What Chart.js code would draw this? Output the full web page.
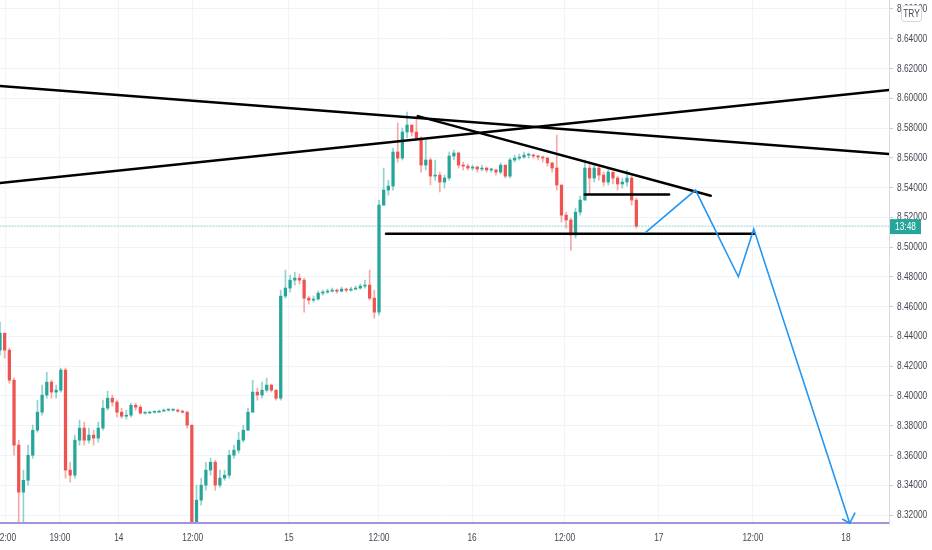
<!DOCTYPE html>
<html>
<head>
<meta charset="utf-8">
<script src="https://cdn.jsdelivr.net/npm/chart.js@4.4.1/dist/chart.umd.min.js"></script>
<style>
html, body { margin: 0; padding: 0; background: #fff; }
#wrap { width: 932px; height: 550px; }
</style>
</head>
<body>
<div id="wrap"><canvas id="chart" width="932" height="550"></canvas></div>
<script>
// one entry per candle, x = candle number
const firstOpen = 8.4308;
const closes = [
  8.4422, 8.4308, 8.4106, 8.3670, 8.3354, 8.3434, 8.3602, 8.3770, 8.3891, 8.4006,
  8.4093, 8.4026, 8.4039, 8.4174, 8.3502, 8.3468, 8.3703, 8.3784, 8.3703, 8.3737,
  8.3717, 8.3784, 8.3918, 8.3985, 8.3959, 8.3891, 8.3864, 8.3871, 8.3938, 8.3925,
  8.3885, 8.3885, 8.3891, 8.3891, 8.3898, 8.3905, 8.3905, 8.3905, 8.3898, 8.3891,
  8.3804, 8.3120, 8.3300, 8.3401, 8.3502, 8.3555, 8.3401, 8.3448, 8.3468, 8.3602,
  8.3636, 8.3703, 8.3770, 8.3891, 8.4026, 8.4006, 8.4039, 8.4073, 8.4039, 8.3985,
  8.4671, 8.4725, 8.4778, 8.4792, 8.4778, 8.4657, 8.4644, 8.4651, 8.4691, 8.4698,
  8.4704, 8.4711, 8.4704, 8.4718, 8.4711, 8.4718, 8.4725, 8.4738, 8.4745, 8.4657,
  8.4563, 8.5282, 8.5383, 8.5410, 8.5639, 8.5598, 8.5773, 8.5820, 8.5773, 8.5733,
  8.5551, 8.5585, 8.5477, 8.5484, 8.5437, 8.5464, 8.5612, 8.5632, 8.5551, 8.5544,
  8.5531, 8.5538, 8.5524, 8.5531, 8.5518, 8.5518, 8.5504, 8.5551, 8.5477, 8.5585,
  8.5598, 8.5605, 8.5618, 8.5618, 8.5612, 8.5605, 8.5598, 8.5565, 8.5531, 8.5417,
  8.5215, 8.5182, 8.5081, 8.5235, 8.5316, 8.5531, 8.5464, 8.5531, 8.5484, 8.5437,
  8.5504, 8.5464, 8.5424, 8.5437, 8.5464, 8.5316, 8.5141
];
const highs = [
  8.4496, 8.4375, 8.4321, 8.4120, 8.3703, 8.3502, 8.3670, 8.3804, 8.3972, 8.4073,
  8.4160, 8.4106, 8.4073, 8.4187, 8.4187, 8.3555, 8.3737, 8.3838, 8.3824, 8.3784,
  8.3770, 8.3824, 8.3972, 8.4032, 8.4006, 8.3972, 8.3918, 8.3905, 8.3952, 8.3952,
  8.3938, 8.3891, 8.3898, 8.3898, 8.3905, 8.3912, 8.3912, 8.3912, 8.3912, 8.3905,
  8.3898, 8.3804, 8.3401, 8.3448, 8.3555, 8.3582, 8.3568, 8.3502, 8.3502, 8.3636,
  8.3670, 8.3757, 8.3804, 8.3918, 8.4106, 8.4053, 8.4093, 8.4120, 8.4080, 8.4040,
  8.4711, 8.4846, 8.4812, 8.4832, 8.4819, 8.4792, 8.4671, 8.4671, 8.4704, 8.4711,
  8.4718, 8.4725, 8.4718, 8.4731, 8.4725, 8.4731, 8.4738, 8.4752, 8.4778, 8.4846,
  8.4711, 8.5316, 8.5531, 8.5450, 8.5665, 8.5834, 8.5800, 8.5907, 8.5820, 8.5880,
  8.5740, 8.5719, 8.5598, 8.5585, 8.5504, 8.5484, 8.5639, 8.5652, 8.5639, 8.5571,
  8.5558, 8.5551, 8.5544, 8.5551, 8.5538, 8.5531, 8.5524, 8.5565, 8.5551, 8.5598,
  8.5618, 8.5625, 8.5639, 8.5632, 8.5625, 8.5618, 8.5612, 8.5605, 8.5571, 8.5753,
  8.5417, 8.5235, 8.5195, 8.5262, 8.5343, 8.5585, 8.5571, 8.5558, 8.5551, 8.5504,
  8.5531, 8.5504, 8.5477, 8.5464, 8.5518, 8.5477, 8.5329
];
const lows = [
  8.4274, 8.4254, 8.4086, 8.3602, 8.3100, 8.3100, 8.3401, 8.3582, 8.3757, 8.3871,
  8.3985, 8.3985, 8.3985, 8.4026, 8.3448, 8.3421, 8.3448, 8.3670, 8.3670, 8.3683,
  8.3670, 8.3690, 8.3770, 8.3905, 8.3932, 8.3858, 8.3851, 8.3844, 8.3858, 8.3905,
  8.3878, 8.3878, 8.3885, 8.3885, 8.3891, 8.3898, 8.3898, 8.3898, 8.3891, 8.3885,
  8.3784, 8.3050, 8.3050, 8.3266, 8.3367, 8.3468, 8.3367, 8.3387, 8.3434, 8.3448,
  8.3582, 8.3616, 8.3690, 8.3770, 8.3891, 8.3972, 8.3985, 8.4026, 8.4026, 8.3972,
  8.3972, 8.4657, 8.4698, 8.4745, 8.4752, 8.4563, 8.4617, 8.4631, 8.4644, 8.4678,
  8.4691, 8.4698, 8.4691, 8.4698, 8.4698, 8.4704, 8.4711, 8.4718, 8.4725, 8.4644,
  8.4523, 8.4543, 8.5282, 8.5350, 8.5383, 8.5571, 8.5585, 8.5733, 8.5746, 8.5719,
  8.5504, 8.5518, 8.5417, 8.5450, 8.5370, 8.5397, 8.5450, 8.5585, 8.5531, 8.5518,
  8.5518, 8.5518, 8.5504, 8.5511, 8.5504, 8.5504, 8.5484, 8.5491, 8.5464, 8.5464,
  8.5571, 8.5585, 8.5598, 8.5598, 8.5598, 8.5585, 8.5571, 8.5544, 8.5504, 8.5383,
  8.5168, 8.5128, 8.4980, 8.5061, 8.5215, 8.5316, 8.5350, 8.5437, 8.5450, 8.5410,
  8.5417, 8.5424, 8.5383, 8.5397, 8.5410, 8.5282, 8.5128
];

const xTickPos = [1.2, 12.8, 25.4, 41.2, 61.75, 81, 100.9, 120.7, 140.8, 160.9, 180.8];
const xTickLabels = ['12:00', '19:00', '14', '12:00', '15', '12:00', '16', '12:00', '17', '12:00', '18'];
const yTickValues = [8.32, 8.34, 8.36, 8.38, 8.40, 8.42, 8.44, 8.46, 8.48, 8.50, 8.52, 8.54, 8.56, 8.58, 8.60, 8.62, 8.64, 8.66];

// drawings, [candle number, price]
const trendDown = [[0, 8.6082], [190, 8.5625]];
const trendUp = [[0, 8.5430], [190, 8.6055]];
const wedgeTop = [[89.3, 8.5880], [151.9, 8.5345]];
const shelfLine = [[125, 8.5354], [143, 8.5354]];
const supportLine = [[82.5, 8.5090], [161.3, 8.5090]];
const projection = [[138.0, 8.5099], [148.65, 8.5383], [157.8, 8.4801], [161.1, 8.5121], [181.6, 8.3145]];
const arrowHead = [[180.1, 8.3172], [181.6, 8.3145], [182.7, 8.3213]];
const purpleLevel = [[0, 8.3146], [190, 8.3146]];
const countdownText = '13:48';
const currencyText = 'TRY';

const UP = '#26a69a';
const DOWN = '#ef5350';
const TEXT = '#434651';
const FONT = "'Liberation Sans', Arial, sans-serif";
const SQUEEZE = 0.76;   // the reference text is set very narrow

const opens = closes.map((c, i) => i === 0 ? firstOpen : closes[i - 1]);
const lastPrice = closes[closes.length - 1];
const isUp = i => closes[i] >= opens[i];

const bodies = closes.map((c, i) => ({x: i, y: [opens[i], c]}));
const wicks = closes.map((c, i) => ({
  x: i,
  y: [Math.min(lows[i], opens[i], c), Math.max(highs[i], opens[i], c)]
}));

function lineSet(pts, color, width, dash) {
  return {
    type: 'line',
    data: pts.map(p => ({x: p[0], y: p[1]})),
    borderColor: color,
    borderWidth: width,
    borderDash: dash || [],
    pointRadius: 0,
    fill: false,
    tension: 0,
    borderCapStyle: 'round'
  };
}

function narrowText(ctx, text, x, y) {
  ctx.save();
  ctx.translate(x, y);
  ctx.scale(SQUEEZE, 1);
  ctx.fillText(text, 0, 0);
  ctx.restore();
}

// squeeze the tick labels horizontally around their own anchor
function narrowLabels(scale) {
  if (scale.$narrow) return;
  scale.$narrow = true;
  const draw = scale.drawLabels;
  scale.drawLabels = function (area) {
    const ctx = this.ctx;
    const fill = ctx.fillText;
    ctx.fillText = function (t, x, y) {
      this.save();
      this.translate(x, y);
      this.scale(SQUEEZE, 1);
      fill.call(this, t, 0, 0);
      this.restore();
    };
    draw.call(this, area);
    delete ctx.fillText;
  };
}

const overlay = {
  id: 'overlay',
  afterDraw(chart) {
    const {ctx, chartArea, scales} = chart;
    const py = scales.y.getPixelForValue(lastPrice);
    ctx.save();
    ctx.fillStyle = UP;
    ctx.fillRect(chartArea.right + 1, py - 7, 31, 15);
    ctx.fillStyle = '#fff';
    ctx.font = '11px ' + FONT;
    ctx.textBaseline = 'middle';
    ctx.textAlign = 'center';
    narrowText(ctx, countdownText, chartArea.right + 16.5, py + 0.5);

    // currency badge
    ctx.beginPath();
    ctx.roundRect(901.5, 5.5, 20, 16, 3);
    ctx.fillStyle = '#fff';
    ctx.fill();
    ctx.strokeStyle = '#d1d4dc';
    ctx.lineWidth = 1;
    ctx.stroke();
    ctx.fillStyle = TEXT;
    narrowText(ctx, currencyText, 911.5, 14);
    ctx.restore();
  }
};

new Chart(document.getElementById('chart'), {
  type: 'bar',
  data: {
    datasets: [
      lineSet(arrowHead, '#2196f3', 1.6),
      lineSet(projection, '#2196f3', 1.6),
      lineSet(trendDown, '#000', 2.5),
      lineSet(trendUp, '#000', 2.5),
      lineSet(wedgeTop, '#000', 2.5),
      lineSet(shelfLine, '#000', 2.5),
      lineSet(supportLine, '#000', 2.5),
      lineSet(purpleLevel, '#a393dd', 2),
      lineSet([[0, lastPrice], [190, lastPrice]], 'rgba(38,166,154,0.55)', 1, [1, 2]),
      {
        data: bodies,
        backgroundColor: ctx => isUp(ctx.dataIndex) ? UP : DOWN,
        barThickness: 2.6,
        minBarLength: 1,
        grouped: false
      },
      {
        data: wicks,
        backgroundColor: ctx => isUp(ctx.dataIndex) ? 'rgba(38,166,154,0.5)' : 'rgba(239,83,80,0.5)',
        barThickness: 1,
        grouped: false
      }
    ]
  },
  options: {
    responsive: false,
    animation: false,
    events: [],
    layout: {padding: 0},
    plugins: {legend: {display: false}, tooltip: {enabled: false}},
    scales: {
      x: {
        type: 'linear',
        min: 0,
        max: 190,
        offset: false,
        grid: {color: '#f0f3fa', offset: false, drawTicks: false},
        border: {display: false},
        afterBuildTicks: s => { s.ticks = xTickPos.map(v => ({value: v})); },
        afterFit: s => { s.height = 26; s.paddingLeft = 0; s.paddingRight = 0; narrowLabels(s); },
        ticks: {
          autoSkip: false,
          maxRotation: 0,
          padding: 7,
          color: TEXT,
          font: {family: FONT, size: 11},
          callback: (v, i) => xTickLabels[i]
        }
      },
      y: {
        position: 'right',
        min: 8.314,
        max: 8.666,
        grid: {color: '#f0f3fa', tickColor: '#c8cbd3', tickLength: 4},
        border: {color: '#d6d9e0'},
        afterBuildTicks: s => { s.ticks = yTickValues.map(v => ({value: v})); },
        afterFit: s => { s.width = 43; s.paddingTop = 0; s.paddingBottom = 0; narrowLabels(s); },
        ticks: {
          padding: 4,
          color: TEXT,
          font: {family: FONT, size: 11},
          callback: v => v.toFixed(5)
        }
      }
    }
  },
  plugins: [overlay]
});
</script>
</body>
</html>
